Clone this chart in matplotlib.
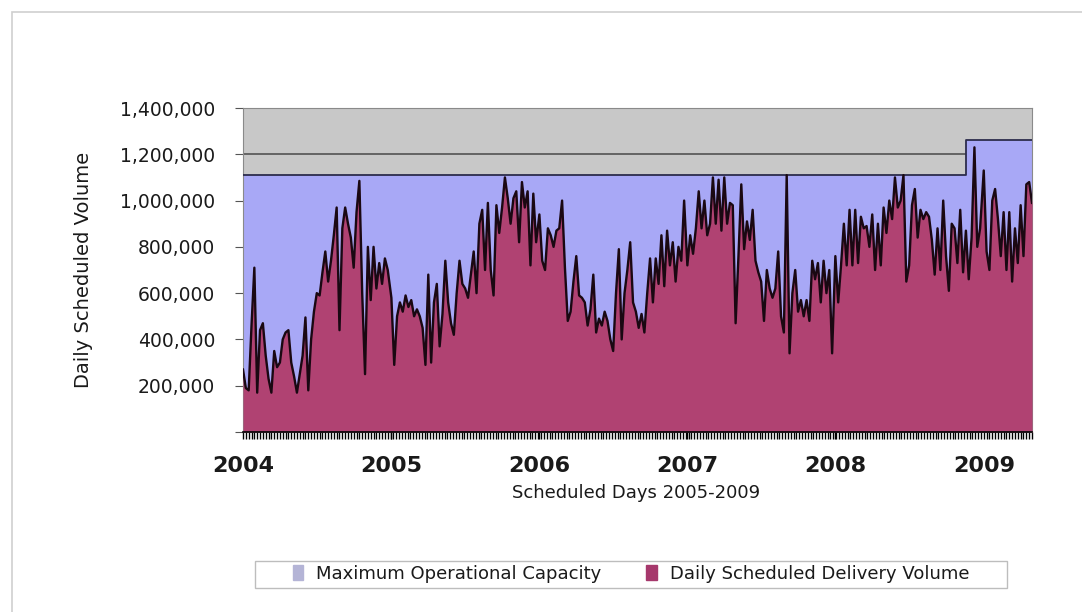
import numpy as np
import pandas as pd
import matplotlib.pyplot as plt
import matplotlib.dates as mdates
from matplotlib.patches import Patch, Rectangle
from matplotlib.ticker import FuncFormatter, MultipleLocator

plt.rcParams['font.family'] = ['DejaVu Sans']

# weekly scheduled delivery volume (thousands), one list per year
vol_2004 = [270, 190, 180, 460, 710, 170, 440, 470, 330, 230, 170, 350, 280, 300, 400, 430, 440, 300, 240, 170,
            250, 330, 495, 180, 400, 520, 600, 590, 690, 780, 650, 740, 850, 970, 440, 880, 970, 900, 840, 710,
            950, 1085, 600, 250, 800, 570, 800, 620, 730, 640, 750, 700]
vol_2005 = [580, 290, 500, 560, 520, 590, 540, 570, 500, 530, 500, 450, 290, 680, 300, 560, 640, 370, 510, 740,
            560, 470, 420, 600, 740, 640, 620, 580, 680, 780, 600, 900, 960, 700, 990, 700, 590, 980, 860, 970,
            1100, 1010, 900, 1010, 1040, 820, 1080, 970, 1040, 720, 1030, 820]
vol_2006 = [940, 740, 700, 880, 850, 800, 870, 880, 1000, 710, 480, 520, 650, 760, 590, 580, 560, 460, 530, 680,
            430, 490, 460, 520, 480, 400, 350, 600, 790, 400, 600, 700, 820, 560, 520, 450, 510, 430, 600, 750,
            560, 750, 640, 850, 630, 870, 720, 820, 650, 800, 740, 1000]
vol_2007 = [720, 850, 770, 880, 1040, 880, 1000, 850, 900, 1100, 900, 1090, 870, 1100, 900, 990, 980, 470, 760, 1070,
            790, 910, 830, 960, 740, 690, 650, 480, 700, 620, 580, 620, 780, 500, 430, 1110, 340, 600, 700, 520,
            570, 500, 570, 480, 740, 660, 730, 560, 740, 600, 700, 340]
vol_2008 = [760, 560, 720, 900, 720, 960, 720, 960, 730, 930, 880, 890, 800, 940, 700, 900, 720, 970, 860, 1000,
            920, 1100, 970, 1000, 1110, 650, 720, 980, 1050, 840, 960, 920, 950, 930, 830, 680, 880, 700, 1000, 760,
            610, 900, 880, 730, 960, 690, 870, 660, 840, 1230, 800, 880]
vol_2009 = [1130, 780, 700, 1000, 1050, 920, 760, 950, 700, 950, 650, 880, 730, 980, 760, 1070, 1080, 990]

years = [2004, 2005, 2006, 2007, 2008, 2009]
yearly = [vol_2004, vol_2005, vol_2006, vol_2007, vol_2008, vol_2009]

# max operational capacity steps up in November 2008
cap_change = '2008-11-17'
cap_levels = [1110000, 1260000]

dates = []
for yr, vals in zip(years, yearly):
    dates.extend(pd.date_range(f'{yr}-01-01', periods=len(vals), freq='7D'))
dates = pd.DatetimeIndex(dates)
volume = np.concatenate([np.array(v) for v in yearly]) * 1000

cap_dates = pd.DatetimeIndex([dates[0], pd.Timestamp(cap_change), dates[-1]])
cap_values = [cap_levels[0], cap_levels[1], cap_levels[1]]

fig = plt.figure(figsize=(10.82, 6.12), dpi=100)
ax = fig.add_axes([243 / 1082, 1 - 432 / 612, 789 / 1082, 324 / 612])
ax.set_facecolor('#c8c8c8')

ax.axhline(1200000, color='#5c5c5c', lw=1.3, zorder=1)
ax.fill_between(cap_dates, cap_values, step='post', color='#a8a8f6', lw=0, zorder=2)
ax.step(cap_dates, cap_values, where='post', color='#2c2c4c', lw=1.3, zorder=3)
ax.fill_between(dates, volume, color='#b04272', lw=0, zorder=4)
ax.plot(dates, volume, color='#1a0812', lw=1.7, zorder=5)

ax.set_xlim(dates[0], dates[-1])
ax.set_ylim(0, 1400000)

for side in ['top', 'right', 'left']:
    ax.spines[side].set_color('#8a8a8a')
ax.spines['bottom'].set_color('black')
ax.spines['bottom'].set_linewidth(1.2)
ax.spines['bottom'].set_zorder(6)

ax.yaxis.set_major_locator(MultipleLocator(200000))
ax.yaxis.set_major_formatter(FuncFormatter(lambda v, p: '' if v == 0 else f'{v:,.0f}'))
ax.tick_params(axis='y', length=6, color='#555555', labelsize=13.5, labelcolor='#1a1a1a', pad=14)

ax.xaxis.set_major_locator(mdates.YearLocator())
ax.xaxis.set_major_formatter(mdates.DateFormatter('%Y'))
ax.xaxis.set_minor_locator(mdates.WeekdayLocator(byweekday=mdates.TH))
ax.tick_params(axis='x', which='both', length=5, width=1, color='black')
ax.tick_params(axis='x', which='major', labelsize=16, labelcolor='#1a1a1a', pad=12)
for lab in ax.get_xticklabels():
    lab.set_fontweight('bold')

ax.set_xlabel('Scheduled Days 2005-2009', fontsize=13, color='#1a1a1a')
ax.xaxis.set_label_coords(0.498, -0.16)
ax.set_ylabel('Daily Scheduled Volume', fontsize=14, color='#1a1a1a')
ax.yaxis.set_label_coords(-0.19, 0.5)

handles = [Patch(color='#b4b4d6', label='Maximum Operational Capacity'),
           Patch(color='#a6386c', label='Daily Scheduled Delivery Volume')]
fig.legend(handles=handles, loc='center', bbox_to_anchor=(631 / 1082, 1 - 574 / 612), ncol=2,
           frameon=False, fontsize=13, handlelength=0.6, handleheight=0.9, handletextpad=0.7,
           columnspacing=2.5, labelcolor='#1a1a1a')
fig.add_artist(Rectangle((255 / 1082, 1 - 588 / 612), 752 / 1082, 27 / 612, transform=fig.transFigure,
                         fill=False, edgecolor='#bdbdbd', lw=1))

# light frame around the whole chart
fig.add_artist(Rectangle((12 / 1082, -0.05), 1.1, 1.05 - 12 / 612, transform=fig.transFigure,
                         fill=False, edgecolor='#cfcfcf', lw=1.2, clip_on=False))

fig.savefig('out.png', dpi=100)
